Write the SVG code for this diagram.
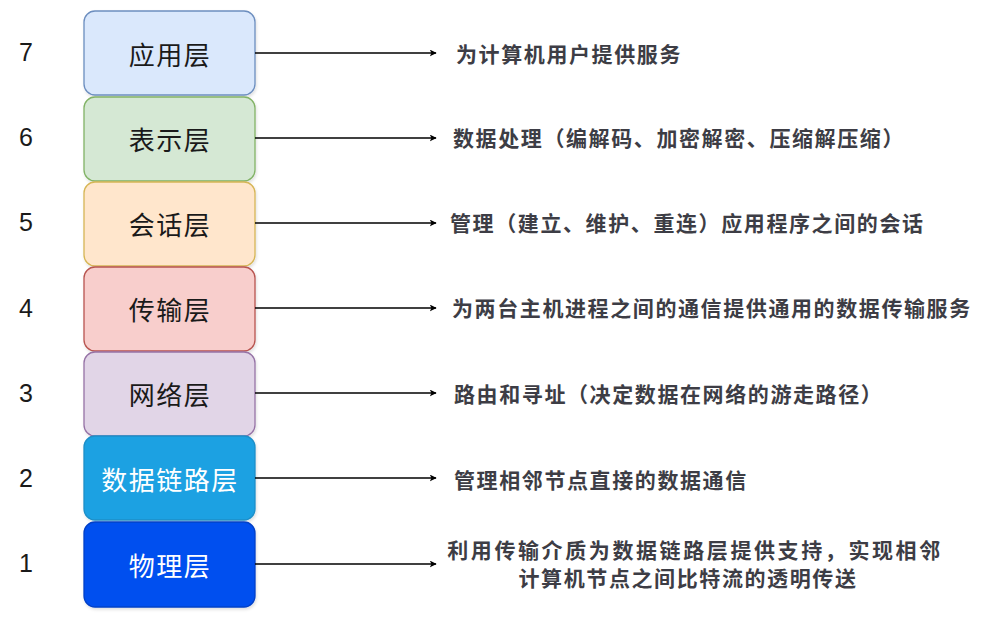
<svg xmlns="http://www.w3.org/2000/svg" width="994" height="618" viewBox="0 0 994 618">
<style>
.box{stroke-width:1.3}
.lbl{font-family:"Noto Sans CJK SC","Noto Sans",sans-serif;font-size:26px;letter-spacing:1.5px;text-anchor:middle;dominant-baseline:central;fill:#1a1a1a}
.wl{fill:#ffffff}
.num{font-family:"Liberation Sans",Arial,sans-serif;font-size:25px;text-anchor:middle;dominant-baseline:central;fill:#1a1a1a}
.desc{font-family:"Noto Sans CJK SC","Noto Sans",sans-serif;font-size:21px;font-weight:bold;letter-spacing:1.6px;dominant-baseline:central;fill:#3d3d45}
.mid{text-anchor:middle}
.conn{stroke:#000;stroke-width:1.5;fill:none}
</style>
<defs>
<marker id="arr" viewBox="0 0 10 10" refX="9" refY="5" markerWidth="7" markerHeight="7" markerUnits="userSpaceOnUse" orient="auto">
<path d="M0,0 L10,5 L0,10 L2.5,5 Z" fill="#000"/>
</marker>
<filter id="sh" x="-10%" y="-10%" width="120%" height="130%">
<feDropShadow dx="1" dy="2" stdDeviation="1.5" flood-color="#000" flood-opacity="0.12"/>
</filter>
</defs>
<rect width="994" height="618" fill="#ffffff"/>

<g id="n7"><rect class="box" x="84" y="11" width="171" height="84" rx="11" fill="#dae8fc" stroke="#6c8ebf" filter="url(#sh)"/><text class="lbl" x="170" y="53">应用层</text><text class="num" x="26" y="52">7</text></g>
<g id="n6"><rect class="box" x="84" y="97" width="171" height="84" rx="11" fill="#d5e8d4" stroke="#82b366" filter="url(#sh)"/><text class="lbl" x="170" y="138">表示层</text><text class="num" x="26" y="137">6</text></g>
<g id="n5"><rect class="box" x="84" y="182" width="171" height="84" rx="11" fill="#ffe6cc" stroke="#d6b656" filter="url(#sh)"/><text class="lbl" x="170" y="223">会话层</text><text class="num" x="26" y="222">5</text></g>
<g id="n4"><rect class="box" x="84" y="267" width="171" height="84" rx="11" fill="#f8cecc" stroke="#b85450" filter="url(#sh)"/><text class="lbl" x="170" y="308">传输层</text><text class="num" x="26" y="308">4</text></g>
<g id="n3"><rect class="box" x="84" y="352" width="171" height="84" rx="11" fill="#e1d5e7" stroke="#9673a6" filter="url(#sh)"/><text class="lbl" x="170" y="393">网络层</text><text class="num" x="26" y="393">3</text></g>
<g id="n2"><rect class="box" x="84" y="436" width="171" height="84" rx="11" fill="#1ba1e2" stroke="#1f8fc8" filter="url(#sh)"/><text class="lbl wl" x="170" y="478">数据链路层</text><text class="num" x="26" y="478">2</text></g>
<g id="n1"><rect class="box" x="84" y="522" width="171" height="85" rx="11" fill="#0050ef" stroke="#0040c8" filter="url(#sh)"/><text class="lbl wl" x="170" y="564">物理层</text><text class="num" x="26" y="563">1</text></g>

<g id="connectors">
<line class="conn" x1="255" y1="53" x2="436" y2="53" marker-end="url(#arr)"/>
<line class="conn" x1="255" y1="138" x2="436" y2="138" marker-end="url(#arr)"/>
<line class="conn" x1="255" y1="223" x2="436" y2="223" marker-end="url(#arr)"/>
<line class="conn" x1="255" y1="308" x2="436" y2="308" marker-end="url(#arr)"/>
<line class="conn" x1="255" y1="393" x2="436" y2="393" marker-end="url(#arr)"/>
<line class="conn" x1="255" y1="478" x2="436" y2="478" marker-end="url(#arr)"/>
<line class="conn" x1="255" y1="564" x2="436" y2="564" marker-end="url(#arr)"/>
</g>

<g id="descriptions">
<text class="desc" x="456" y="53">为计算机用户提供服务</text>
<text class="desc" x="453" y="137">数据处理（编解码、加密解密、压缩解压缩）</text>
<text class="desc" x="450" y="222">管理（建立、维护、重连）应用程序之间的会话</text>
<text class="desc" x="452" y="307">为两台主机进程之间的通信提供通用的数据传输服务</text>
<text class="desc" x="454" y="393">路由和寻址（决定数据在网络的游走路径）</text>
<text class="desc" x="454" y="479">管理相邻节点直接的数据通信</text>
<text class="desc mid" x="695" y="549" style="letter-spacing:2.6px">利用传输介质为数据链路层提供支持，实现相邻</text>
<text class="desc mid" x="688" y="577">计算机节点之间比特流的透明传送</text>
</g>
</svg>
